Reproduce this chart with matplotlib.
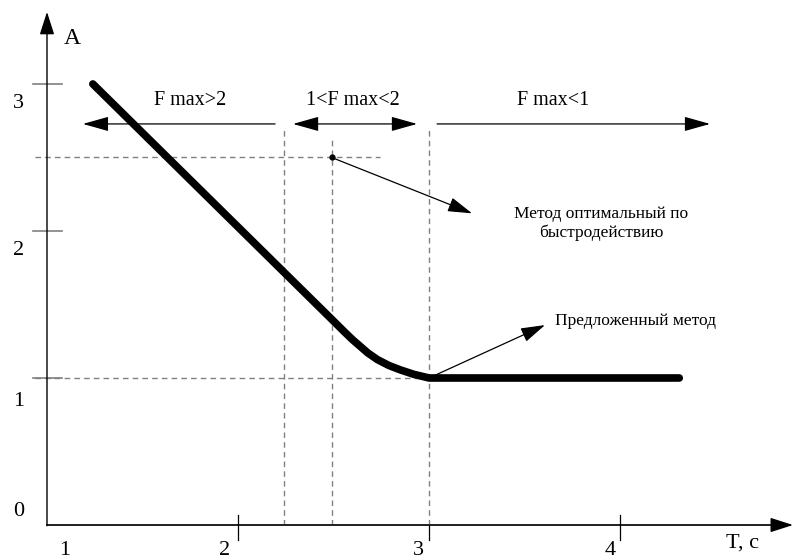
import matplotlib.pyplot as plt

plt.rcParams['font.family'] = ['Liberation Serif', 'DejaVu Serif']

# curve A(T)
curve_t = [1.24, 2.24, 2.49, 2.56, 2.60, 2.64, 2.68, 2.73, 2.79, 2.85, 2.92, 3.0, 4.31]
curve_a = [3.0, 1.72, 1.40, 1.31, 1.26, 1.215, 1.17, 1.125, 1.085, 1.055, 1.025, 1.0, 1.0]

# guide lines
vline_t = [2.24, 2.49, 3.0]
vline_top = [2.70, 2.62, 2.70]
hline_a = [2.5, 1.0]
hline_end = [2.743, 3.0]

# region labels and arrows
region_text = ['F max>2', '1<F max<2', 'F max<1']
region_xc = [1.75, 2.60, 3.65]
region_from = [2.194, 2.288, 3.042]
region_to = [1.188, 2.937, 4.471]
region_style = ['-|>', '<|-|>', '-|>']

xticks = [2, 3, 4]
yticks = [1, 2, 3]

fig = plt.figure(figsize=(8, 5.6), dpi=100)
ax = fig.add_axes([0, 0, 1, 1])
ax.set_xlim(0.754, 4.942)
ax.set_ylim(-0.238, 3.571)
ax.axis('off')

gray = '#808080'

# axes with arrow heads
ax.annotate('', xy=(1.0, 3.49), xytext=(1.0, -0.005),
            arrowprops=dict(arrowstyle='-|>,head_length=1.4,head_width=0.45',
                            color='black', lw=1.0, shrinkA=0, shrinkB=0))
ax.annotate('', xy=(4.905, 0.0), xytext=(1.0, 0.0),
            arrowprops=dict(arrowstyle='-|>,head_length=1.4,head_width=0.45',
                            color='black', lw=1.0, shrinkA=0, shrinkB=0))
ax.plot([1.0, 4.8], [0, 0], color='#606060', lw=1.2)

# ticks
for t in xticks:
    ax.plot([t, t], [-0.10, 0.07] if t != 3 else [-0.10, 0.0], color='black', lw=0.9)
for a in yticks:
    ax.plot([0.927, 1.079], [a, a], color=gray, lw=1.2)

for t, px in zip([1, 2, 3, 4], [1.094, 1.927, 2.942, 3.948]):
    ax.text(px, -0.17, str(t), fontsize=16, ha='center', va='center')
for a, py in zip([0, 1, 2, 3], [0.09, 0.84, 1.87, 2.87]):
    ax.text(0.85, py, str(a), fontsize=16, ha='center', va='center')
ax.text(1.13, 3.31, 'A', fontsize=17, ha='center', va='center')
ax.text(4.64, -0.12, 'T, с', fontsize=16, ha='center', va='center')

# dashed guides
for t, top in zip(vline_t, vline_top):
    ax.plot([t, t], [0, top], color=gray, lw=1.0, ls=(0, (4, 3)))
for a, end in zip(hline_a, hline_end):
    ax.plot([0.937, end], [a, a], color=gray, lw=1.0, ls=(0, (4, 3)))

# main curve
ax.plot(curve_t, curve_a, color='black', lw=5.5, solid_capstyle='round',
        solid_joinstyle='round')

# region arrows
for txt, xc, x0, x1, st in zip(region_text, region_xc, region_from, region_to, region_style):
    ax.annotate('', xy=(x1, 2.728), xytext=(x0, 2.728),
                arrowprops=dict(arrowstyle=st + ',head_length=1.6,head_width=0.45',
                                color='black', lw=0.9, shrinkA=0, shrinkB=0))
    ax.text(xc, 2.89, txt, fontsize=14.5, ha='center', va='center')

# annotations
ax.plot([2.49], [2.5], 'o', color='black', ms=3.5)
ax.annotate('', xy=(3.225, 2.12), xytext=(2.49, 2.5),
            arrowprops=dict(arrowstyle='-|>,head_length=1.5,head_width=0.45',
                            color='black', lw=0.9, shrinkA=0, shrinkB=0))
ax.text(3.90, 2.05, 'Метод оптимальный по\nбыстродействию', fontsize=12.5,
        ha='center', va='center', linespacing=1.15)

ax.annotate('', xy=(3.607, 1.36), xytext=(3.0, 1.0),
            arrowprops=dict(arrowstyle='-|>,head_length=1.5,head_width=0.45',
                            color='black', lw=0.9, shrinkA=0, shrinkB=0))
ax.text(3.66, 1.39, 'Предложенный метод', fontsize=12.5, ha='left', va='center')

fig.savefig('out.png', dpi=100)
